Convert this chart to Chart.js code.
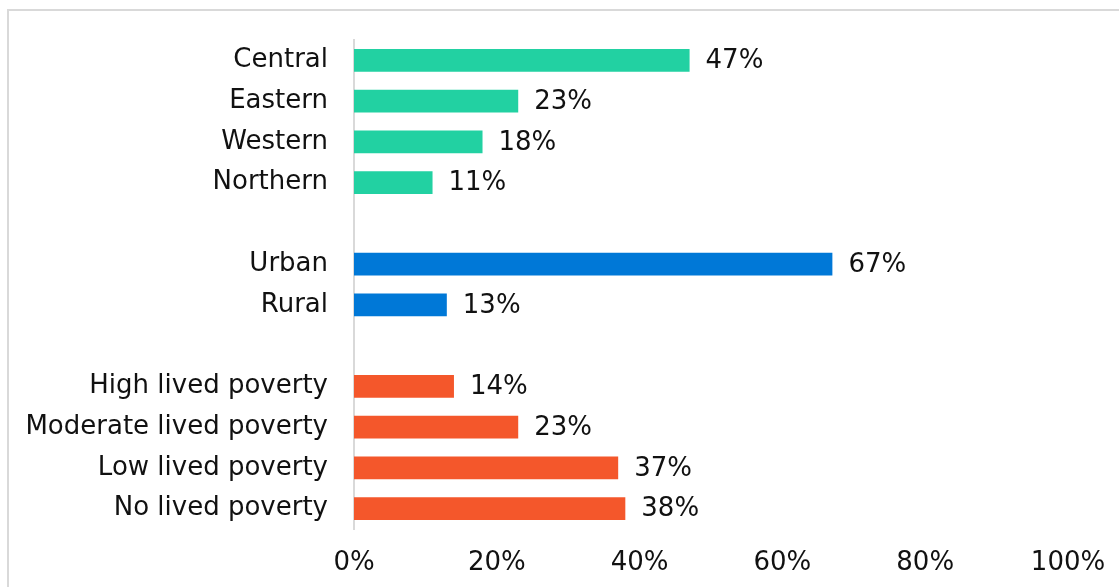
<!DOCTYPE html>
<html>
<head>
<meta charset="utf-8">
<script src="https://cdn.jsdelivr.net/npm/chart.js@4/dist/chart.umd.min.js"></script>
<style>
  html, body { margin: 0; padding: 0; background: #fff; overflow: hidden; }
  #wrap { position: relative; width: 1119px; height: 587px; }
  #frame { position: absolute; left: 7px; top: 9px; width: 1200px; height: 700px;
           border: 2px solid #d9d9d9; box-sizing: border-box; pointer-events: none; }
  canvas { position: absolute; left: 0; top: 0; }
</style>
</head>
<body>
<div id="wrap">
  <div id="frame"></div>
  <canvas id="chart" width="1119" height="587"></canvas>
</div>
<script>
// Share of respondents by region, settlement type and lived poverty
const regionLabels = ['Central', 'Eastern', 'Western', 'Northern'];
const regionValues = [47, 23, 18, 11];

const areaLabels = ['Urban', 'Rural'];
const areaValues = [67, 13];

const povertyLabels = ['High lived poverty', 'Moderate lived poverty', 'Low lived poverty', 'No lived poverty'];
const povertyValues = [14, 23, 37, 38];

const tickLabels = ['0%', '20%', '40%', '60%', '80%', '100%'];

const regionColor = '#22d1a2';
const areaColor = '#0078d7';
const povertyColor = '#f4572b';

// Blank rows separate the three groups
const labels = [...regionLabels, '', ...areaLabels, '', ...povertyLabels];
const values = [...regionValues, null, ...areaValues, null, ...povertyValues];
const colors = [
  ...regionLabels.map(() => regionColor), 'rgba(0,0,0,0)',
  ...areaLabels.map(() => areaColor), 'rgba(0,0,0,0)',
  ...povertyLabels.map(() => povertyColor)
];

const FONT_FAMILY = '"DejaVu Sans", sans-serif';
const FONT_SIZE = 26;
const TEXT_COLOR = '#111111';

// Writes the percentage just past the end of each bar
const valueLabels = {
  id: 'valueLabels',
  afterDatasetsDraw(chart) {
    const ctx = chart.ctx;
    const meta = chart.getDatasetMeta(0);
    ctx.save();
    ctx.font = FONT_SIZE + 'px ' + FONT_FAMILY;
    ctx.fillStyle = TEXT_COLOR;
    ctx.textAlign = 'left';
    ctx.textBaseline = 'middle';
    meta.data.forEach((bar, i) => {
      const v = chart.data.datasets[0].data[i];
      if (v === null || v === undefined) return;
      ctx.fillText(v + '%', bar.x + 16, bar.y + 1);
    });
    ctx.restore();
  }
};

new Chart(document.getElementById('chart'), {
  type: 'bar',
  data: {
    labels: labels,
    datasets: [{
      data: values,
      backgroundColor: colors,
      borderWidth: 0,
      categoryPercentage: 0.56,
      barPercentage: 1
    }]
  },
  options: {
    indexAxis: 'y',
    responsive: false,
    animation: false,
    devicePixelRatio: 1,
    layout: { padding: { top: 40, right: 51, bottom: 0, left: 0 } },
    plugins: {
      legend: { display: false },
      tooltip: { enabled: false }
    },
    scales: {
      x: {
        min: 0,
        max: 100,
        afterBuildTicks(scale) {
          scale.ticks = tickLabels.map((t, i) => ({ value: i * 20 }));
        },
        grid: { display: false, drawTicks: false },
        border: { display: false },
        ticks: {
          padding: 19,
          color: TEXT_COLOR,
          font: { family: FONT_FAMILY, size: FONT_SIZE },
          maxRotation: 0,
          callback: (value, index) => tickLabels[index]
        },
        afterFit(scale) {
          scale.height = 58;
          scale.paddingLeft = 0;
          scale.paddingRight = 0;
        }
      },
      y: {
        grid: { display: false, drawTicks: false },
        border: { display: true, color: '#d9d9d9', width: 2 },
        ticks: {
          padding: 26,
          color: TEXT_COLOR,
          font: { family: FONT_FAMILY, size: FONT_SIZE },
          autoSkip: false
        },
        afterFit(scale) {
          scale.width = 354;
          scale.paddingTop = 0;
          scale.paddingBottom = 0;
        }
      }
    }
  },
  plugins: [valueLabels]
});
</script>
</body>
</html>
